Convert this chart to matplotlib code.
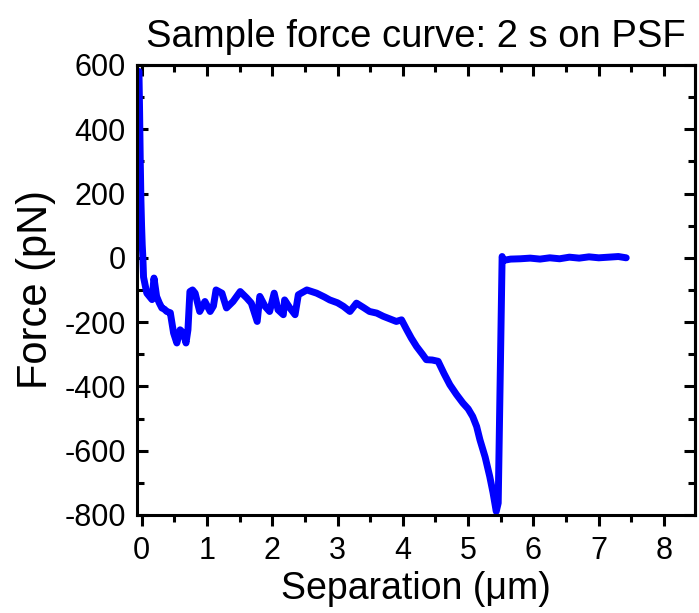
import matplotlib
matplotlib.use('Agg')
import matplotlib.pyplot as plt
from matplotlib.ticker import MultipleLocator

# separation (um) and force (pN)
sep = [-0.04, -0.03, -0.02, -0.01, 0.0, 0.01, 0.02, 0.03, 0.08, 0.12, 0.16, 0.19, 0.23,
       0.27, 0.31, 0.35, 0.385, 0.44, 0.49, 0.54, 0.59, 0.64, 0.68, 0.71, 0.74, 0.78,
       0.82, 0.89, 0.97, 1.05, 1.10, 1.14, 1.23, 1.30, 1.40, 1.51, 1.61, 1.68, 1.77,
       1.81, 1.89, 1.96, 2.03, 2.09, 2.17, 2.19, 2.27, 2.35, 2.40, 2.53, 2.68, 2.80,
       2.88, 3.00, 3.09, 3.19, 3.29, 3.40, 3.49, 3.60, 3.70, 3.80, 3.90, 3.98, 4.06,
       4.13, 4.21, 4.30, 4.36, 4.45, 4.54, 4.63, 4.72, 4.82, 4.92, 5.00, 5.07, 5.13,
       5.18, 5.26, 5.33, 5.38, 5.43, 5.46, 5.49, 5.52, 5.54, 5.65, 5.80, 5.95, 6.10,
       6.25, 6.40, 6.55, 6.70, 6.85, 7.00, 7.15, 7.30, 7.42]
force = [580, 450, 300, 180, 100, 40, 0, -60, -110, -120, -130, -63, -120,
         -140, -156, -160, -167, -171, -234, -265, -224, -234, -265, -224, -105, -100,
         -110, -167, -136, -167, -150, -100, -110, -156, -136, -105, -125, -141, -198,
         -120, -151, -167, -110, -162, -177, -131, -156, -177, -115, -100, -110, -122,
         -131, -140, -151, -167, -141, -155, -167, -172, -182, -190, -198, -193, -224,
         -250, -276, -300, -317, -318, -322, -360, -395, -425, -452, -470, -494, -525,
         -566, -620, -680, -730, -789, -763, -380, 4, -8, -4, -3, -1, -4,
         0, -3, 2, -1, 3, 0, 2, 4, 0]

plt.rcParams['font.family'] = ['Liberation Sans', 'DejaVu Sans']
plt.rcParams['axes.unicode_minus'] = False
tick_font = ['Liberation Sans Narrow', 'Liberation Sans', 'DejaVu Sans']

fig = plt.figure(figsize=(6.99, 6.13), dpi=100)
ax = fig.add_axes([0.196, 0.160, 0.798, 0.734])
ax.plot(sep, force, color='#0000ff', linewidth=5, solid_joinstyle='round', solid_capstyle='round')

ax.set_xlim(-0.07, 8.47)
ax.set_ylim(-800, 600)
ax.xaxis.set_major_locator(MultipleLocator(1))
ax.xaxis.set_minor_locator(MultipleLocator(0.5))
ax.yaxis.set_major_locator(MultipleLocator(200))
ax.yaxis.set_minor_locator(MultipleLocator(100))

for s in ax.spines.values():
    s.set_linewidth(2.2)
ax.tick_params(axis='x', which='both', direction='out', top=False, width=2.2, labelsize=22, pad=7)
ax.tick_params(axis='x', which='major', length=8)
ax.tick_params(axis='x', which='minor', length=5)
ax.tick_params(axis='y', which='both', direction='in', right=False, width=2.2, labelsize=22, pad=8)
ax.tick_params(axis='y', which='major', length=8)
ax.tick_params(axis='y', which='minor', length=5)
for lab in ax.get_xticklabels() + ax.get_yticklabels():
    lab.set_family(tick_font)

# inward ticks on top and right sides
axt = ax.secondary_xaxis('top')
axt.xaxis.set_major_locator(MultipleLocator(1))
axt.xaxis.set_minor_locator(MultipleLocator(0.5))
axt.tick_params(which='both', direction='in', width=2.2, labeltop=False)
axt.tick_params(which='major', length=8)
axt.tick_params(which='minor', length=5)
axt.spines['top'].set_linewidth(2.2)
axr = ax.secondary_yaxis('right')
axr.yaxis.set_major_locator(MultipleLocator(200))
axr.yaxis.set_minor_locator(MultipleLocator(100))
axr.tick_params(which='both', direction='in', width=2.2, labelright=False)
axr.tick_params(which='major', length=8)
axr.tick_params(which='minor', length=5)
axr.spines['right'].set_linewidth(2.2)

ax.set_xlabel('Separation (\u03bcm)', fontsize=27, labelpad=4)
ax.set_ylabel('Force (pN)', fontsize=30, labelpad=6)
ax.set_title('Sample force curve: 2 s on PSF', fontsize=27.5, pad=13)

fig.savefig('out.png', dpi=100)
